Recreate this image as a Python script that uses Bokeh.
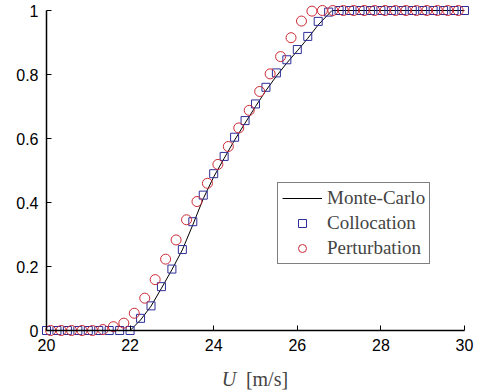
from bokeh.plotting import figure
from bokeh.models import FixedTicker, Legend, LegendItem, Label
from bokeh.embed import file_html
from bokeh.resources import INLINE

# Monte-Carlo reference curve
mc_x = [20.0, 22.0, 22.25, 22.5, 22.75, 23.0, 23.25, 23.5, 23.75, 24.0, 24.25,
        24.5, 24.75, 25.0, 25.25, 25.5, 25.75, 26.0, 26.25, 26.5, 26.83, 30.0]
mc_y = [0.0, 0.0, 0.033, 0.076, 0.132, 0.19, 0.252, 0.33, 0.412, 0.48, 0.538,
        0.595, 0.648, 0.700, 0.750, 0.795, 0.836, 0.874, 0.913, 0.955, 1.0, 1.0]

# Collocation (41 points)
col_x = [20 + 0.25 * k for k in range(41)]
col_y = [0, 0, 0, 0, 0, 0, 0, 0,
         0.0, 0.038, 0.077, 0.137, 0.192, 0.253, 0.34, 0.423, 0.49, 0.544,
         0.604, 0.656, 0.708, 0.76, 0.805, 0.846, 0.878, 0.919, 0.966,
         0.995,
         1, 1, 1, 1, 1, 1, 1, 1, 1, 1, 1, 1, 1]

# Perturbation (40 points)
per_x = [20.1 + 0.25 * k for k in range(40)]
per_y = [0, 0, 0, 0, 0,
         0.003, 0.012,
         0.023, 0.054, 0.101, 0.159, 0.223, 0.283, 0.346, 0.403, 0.46,
         0.519, 0.575, 0.633, 0.688, 0.747, 0.802,
         0.856, 0.915, 0.967, 0.998,
         1, 1, 1, 1, 1, 1, 1, 1, 1, 1, 1, 1, 1, 1]

x_ticks = [20, 22, 24, 26, 28, 30]
y_ticks = [0, 0.2, 0.4, 0.6, 0.8, 1]
y_tick_labels = ["0", "0.2", "0.4", "0.6", "0.8", "1"]

# frame covers whole canvas; axes are drawn at fixed data locations inside it
p = figure(frame_width=481, frame_height=392,
           x_range=(18.8995, 30.4067), y_range=(-0.19375, 1.03125),
           output_backend="svg", toolbar_location=None,
           min_border_left=0, min_border_right=0, min_border_top=0, min_border_bottom=0)
p.outline_line_color = None
p.grid.visible = False
p.background_fill_color = "white"
p.border_fill_color = "white"

for ax in (p.xaxis[0], p.yaxis[0]):
    ax.axis_line_color = "black"
    ax.axis_line_width = 1.5
    ax.major_tick_in = 5
    ax.major_tick_out = 0
    ax.minor_tick_line_color = None
    ax.major_tick_line_color = "black"
    ax.major_label_text_font = "Liberation Sans"
    ax.major_label_text_font_size = "16px"
    ax.major_label_text_color = "black"
    ax.major_label_standoff = 8

p.xaxis[0].ticker = FixedTicker(ticks=x_ticks)
p.yaxis[0].ticker = FixedTicker(ticks=y_ticks)
p.yaxis[0].major_label_overrides = {t: s for t, s in zip(y_ticks, y_tick_labels)}
p.xaxis[0].fixed_location = 0
p.yaxis[0].fixed_location = 20
p.xaxis[0].bounds = (20, 30)
p.yaxis[0].bounds = (0, 1)

r_mc = p.line(mc_x, mc_y, line_color="black", line_width=1)
r_col = p.scatter(col_x, col_y, marker="square", size=8, fill_color=None,
                  line_color="#2e2e9a", line_width=1)
r_per = p.scatter(per_x, per_y, marker="circle", size=10, fill_color=None,
                  line_color="#cc2a36", line_width=1)

legend = Legend(items=[LegendItem(label="Monte-Carlo", renderers=[r_mc]),
                       LegendItem(label="Collocation", renderers=[r_col]),
                       LegendItem(label="Perturbation", renderers=[r_per])],
                location=(277, 128), glyph_width=40, glyph_height=20, spacing=3,
                padding=4, margin=0, label_standoff=5,
                label_text_font="Liberation Serif", label_text_font_size="19px",
                border_line_color="black", border_line_width=1,
                background_fill_alpha=1.0)
p.add_layout(legend)

p.add_layout(Label(x=24.19, y=-0.152, text="U", text_font="Liberation Serif",
                   text_font_style="italic", text_font_size="20px", text_baseline="alphabetic"))
p.add_layout(Label(x=24.77, y=-0.152, text="[m/s]", text_font="Liberation Serif",
                   text_font_size="20px", text_baseline="alphabetic"))

open("out.html", "w").write(file_html(p, INLINE))
